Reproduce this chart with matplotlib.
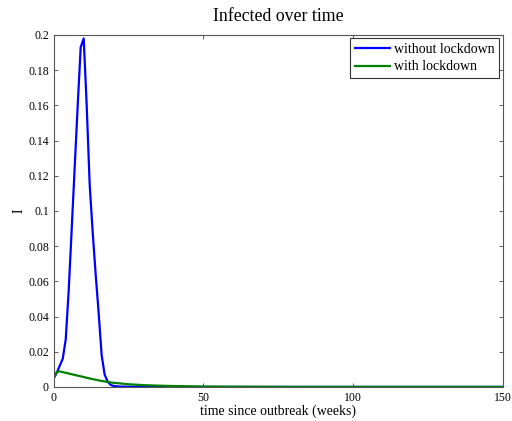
import matplotlib
matplotlib.use("Agg")
import matplotlib.pyplot as plt
from matplotlib.ticker import FormatStrFormatter

plt.rcParams['font.family'] = ['Liberation Serif', 'DejaVu Serif']

# weeks and infected fraction
t_no = [0, 1, 2, 3, 4, 5, 6, 7, 8, 9, 10, 11, 12, 13, 14, 15, 16, 17, 18, 19, 20,
        22, 25, 30, 40, 60, 100, 150]
i_no = [0.005, 0.008, 0.012, 0.016, 0.027, 0.055, 0.09, 0.125, 0.16, 0.193, 0.198,
        0.16, 0.115, 0.088, 0.064, 0.042, 0.018, 0.007, 0.003, 0.0012, 0.0005,
        0.0002, 0.0001, 0.00005, 0.0, 0.0, 0.0, 0.0]

t_lock = [0, 1, 2, 4, 6, 8, 10, 12, 15, 18, 20, 25, 30, 35, 40, 50, 60, 80, 100, 150]
i_lock = [0.005, 0.0085, 0.0088, 0.0080, 0.0072, 0.0064, 0.0056, 0.0048, 0.0037,
          0.0028, 0.0023, 0.0015, 0.0010, 0.0007, 0.0005, 0.0002, 0.0001, 0.0, 0.0, 0.0]

fig = plt.figure(figsize=(5.12, 4.21), dpi=100)
ax = fig.add_axes([0.105, 0.081, 0.877, 0.836])

ax.plot(t_no, i_no, color=(0, 0, 1), lw=1.6, label='without lockdown')
ax.plot(t_lock, i_lock, color=(0, 0.5, 0), lw=1.6, label='with lockdown')

ax.set_xlim(0, 150)
ax.set_ylim(0, 0.2)
ax.set_xticks([0, 50, 100, 150])
ax.set_yticks([i * 0.02 for i in range(11)])
ax.yaxis.set_major_formatter(FormatStrFormatter('%g'))
ax.tick_params(direction='in', top=True, right=True, labelsize=8.5, length=3,
               color='#444444', width=0.6)
ax.tick_params(axis='x', pad=4)
for s in ax.spines.values():
    s.set_color('#555555')
    s.set_linewidth(0.8)

ax.set_title('Infected over time', fontsize=12.8, pad=10)
ax.set_xlabel('time since outbreak (weeks)', fontsize=10, labelpad=0)
ax.set_ylabel('I', fontsize=10, labelpad=2)

leg = ax.legend(loc='upper right', fontsize=10, fancybox=False, framealpha=1,
                edgecolor='#333333', handlelength=2.5, borderaxespad=0.25,
                labelspacing=0.3, borderpad=0.35, handletextpad=0.3)
leg.get_frame().set_linewidth(0.8)

fig.savefig('out.png', dpi=100)
